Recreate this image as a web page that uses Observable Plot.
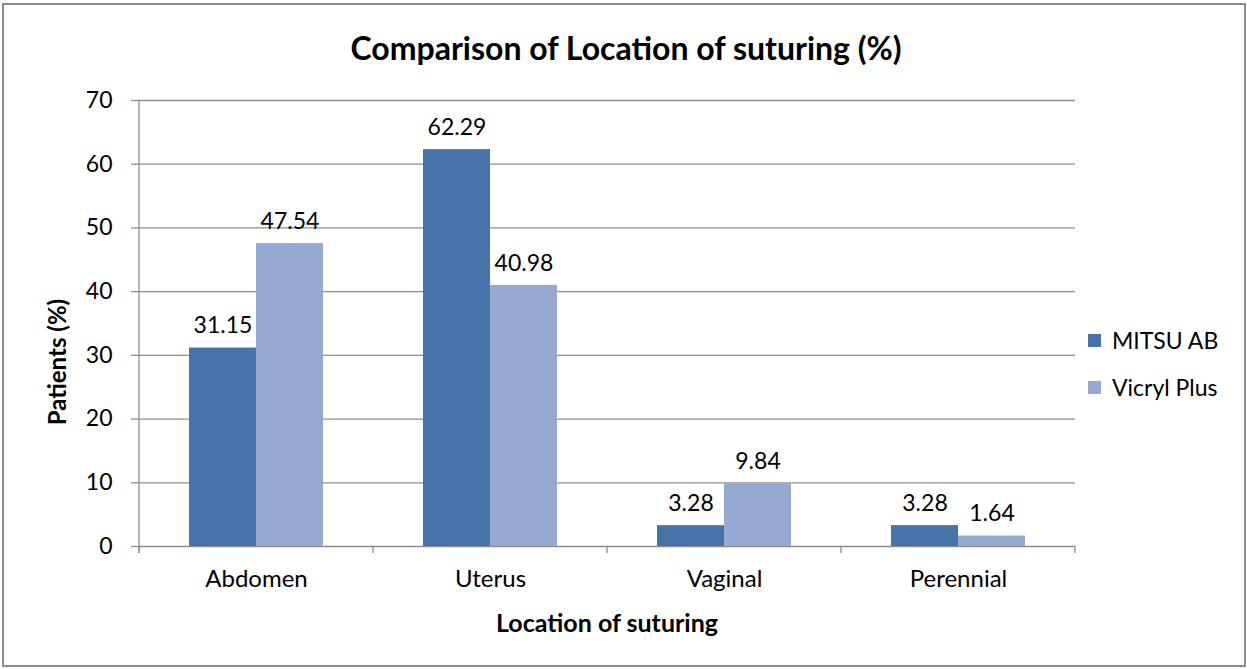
<!DOCTYPE html>
<html>
<head>
<meta charset="utf-8">
<script src="https://cdn.jsdelivr.net/npm/d3@7"></script>
<script src="https://cdn.jsdelivr.net/npm/@observablehq/plot@0.6"></script>
<style>
  html, body { margin: 0; padding: 0; background: #fff; }
  #wrap { position: relative; width: 1247px; height: 669px; font-family: Lato, "Open Sans", sans-serif; color: #000; overflow: hidden; }
  #border { position: absolute; left: 2px; top: 3px; width: 1240px; height: 660px; border: 2px solid #8c8c8c; }
  #chart { position: absolute; left: 0; top: 0; }
  .title { position: absolute; left: 626px; top: 29px; line-height: 38px; transform: translateX(-50%); font-weight: bold; font-size: 32px; white-space: nowrap; }
  .xlabel { position: absolute; left: 607px; top: 607px; line-height: 30px; transform: translateX(-50%); font-weight: bold; font-size: 25px; white-space: nowrap; }
  .ylabel { position: absolute; left: 57px; top: 362px; line-height: 30px; transform: translate(-50%, -50%) rotate(-90deg); font-weight: bold; font-size: 24px; white-space: nowrap; }
  .legend { position: absolute; left: 1088px; top: 326px; font-size: 23px; }
  .legend .item { display: flex; align-items: center; height: 28px; margin-bottom: 19px; white-space: nowrap; }
  .legend .sw { width: 13px; height: 13px; margin-right: 11px; }
</style>
</head>
<body>
<div id="wrap">
  <div id="border"></div>
  <div id="chart"></div>
  <div class="title">Comparison of Location of suturing (%)</div>
  <div class="xlabel">Location of suturing</div>
  <div class="ylabel">Patients (%)</div>
  <div class="legend" id="legend"></div>
</div>
<script>
const categories = ["Abdomen", "Uterus", "Vaginal", "Perennial"];
const seriesNames = ["MITSU AB", "Vicryl Plus"];
const mitsuValues = [31.15, 62.29, 3.28, 3.28];
const vicrylValues = [47.54, 40.98, 9.84, 1.64];
const yTicks = [0, 10, 20, 30, 40, 50, 60, 70];
const seriesColors = ["#4674a9", "#95a9d3"];

const data = categories.flatMap((c, i) => [
  {cat: c, series: seriesNames[0], value: mitsuValues[i]},
  {cat: c, series: seriesNames[1], value: vicrylValues[i]}
]);

const chart = Plot.plot({
  width: 1247,
  height: 669,
  marginLeft: 139,
  marginRight: 172,
  marginTop: 100,
  marginBottom: 123,
  style: {fontFamily: "Lato, 'Open Sans', sans-serif", fontSize: "23px", color: "#000", background: "transparent"},
  fx: {domain: categories, padding: 0, label: null, axis: null},
  x: {domain: seriesNames, paddingInner: 0, paddingOuter: 50 / 67, axis: null},
  y: {domain: [0, 70], axis: null},
  color: {domain: seriesNames, range: seriesColors},
  marks: [
    Plot.ruleY(yTicks, {stroke: "#8c8c8c", strokeWidth: 1.3, strokeOpacity: 1}),
    Plot.barY(data, {fx: "cat", x: "series", y: "value", fill: "series"}),
    Plot.text(data, {fx: "cat", x: "series", y: "value", text: d => d.value.toFixed(2), dy: -22, fill: "#000", fontSize: 23}),
    Plot.axisY({ticks: yTicks, tickSize: 8, tickPadding: 19, fontSize: 23, label: null, stroke: "#8c8c8c", strokeWidth: 1.3, strokeOpacity: 1, fill: "#000"}),
    Plot.axisFx({anchor: "bottom", tickSize: 0, tickPadding: 23, fontSize: 24, label: null, fill: "#000"})
  ]
});
document.getElementById("chart").appendChild(chart);

// axis line and category boundary ticks from the library's scales
const fxS = chart.scale("fx");
const yS = chart.scale("y");
const svg = d3.select(chart);
const y0 = yS.apply(0), yTop = yS.apply(70);
const bounds = categories.map(c => fxS.apply(c));
bounds.push(fxS.apply(categories[categories.length - 1]) + fxS.bandwidth);
const g = svg.append("g").attr("stroke", "#8c8c8c").attr("stroke-width", 1.3);
g.append("line").attr("x1", bounds[0]).attr("x2", bounds[0]).attr("y1", yTop).attr("y2", y0 + 7);
bounds.forEach(b => g.append("line").attr("x1", b).attr("x2", b).attr("y1", y0).attr("y2", y0 + 7));

// legend
const legend = document.getElementById("legend");
seriesNames.forEach((s, i) => {
  const item = document.createElement("div");
  item.className = "item";
  const sw = document.createElement("span");
  sw.className = "sw";
  sw.style.background = seriesColors[i];
  const t = document.createElement("span");
  t.textContent = s;
  item.appendChild(sw);
  item.appendChild(t);
  legend.appendChild(item);
});
</script>
</body>
</html>
